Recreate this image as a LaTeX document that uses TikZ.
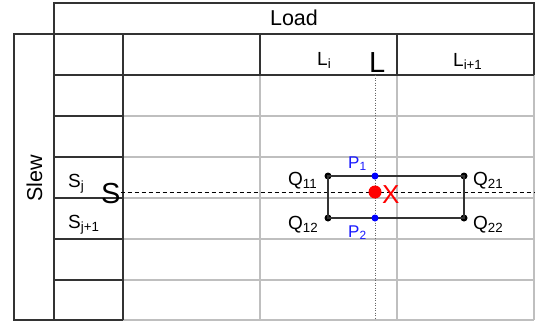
\documentclass[tikz,border=0pt]{standalone}
\usepackage{fontspec}
\setmainfont{Liberation Sans}
\begin{document}
\begin{tikzpicture}[x=1pt,y=-1pt,
  dark/.style={draw=black!80,line width=1.3pt},
  gridl/.style={draw=black!25,line width=1.3pt},
  ttl/.style={inner sep=0pt,font=\fontsize{21.5}{24}\selectfont},
  lbl/.style={inner sep=0pt,anchor=base west,font=\fontsize{19}{22}\selectfont},
  plbl/.style={inner sep=0pt,anchor=base west,text=blue!90,font=\fontsize{17}{20}\selectfont},
  big/.style={inner sep=0pt,anchor=base west,font=\fontsize{29}{32}\selectfont},
  dot/.style={circle,fill=black,inner sep=0pt,minimum size=7pt},
  bdot/.style={circle,fill=blue,inner sep=0pt,minimum size=7pt},
  rdot/.style={circle,fill=red,inner sep=0pt,minimum size=13pt}]
\useasboundingbox (0,0) rectangle (546,322);
% gray grid
\foreach \yy in {116,157,198,239,280,320} \draw[gridl] (123,\yy) -- (534,\yy);
\foreach \xx in {260,397,534} \draw[gridl] (\xx,75) -- (\xx,320);
% dark frame
\draw[dark] (54,3) rectangle (534,34);
\draw[dark] (14,34) rectangle (54,320);
\draw[dark] (54,75) -- (534,75);
\foreach \xx in {260,397,534} \draw[dark] (\xx,34) -- (\xx,75);
\draw[dark] (123,34) -- (123,320);
\foreach \yy in {116,157,198,239,280,320} \draw[dark] (54,\yy) -- (123,\yy);
% titles
\node[ttl] (load) at (294,18) {Load};
\node[ttl,rotate=90] (slew) at (34.5,178.5) {Slew};
\node[lbl] (li) at (317,65) {L\textsubscript{i}};
\node[lbl] (li1) at (453,66) {L\textsubscript{i+1}};
\node[lbl] (sj) at (68,187) {S\textsubscript{j}};
\node[lbl] (sj1) at (68,228) {S\textsubscript{j+1}};
\node[big] (bigL) at (369,72) {L};
\node[big] (bigS) at (101,203) {S};
% guide lines
\coordinate (lbot) at (375,320);
\coordinate (send) at (534,192);
\draw[draw=black!60,line width=1pt,dash pattern=on 1pt off 1.5pt] (375,75) -- (lbot);
\draw[black,line width=1pt,dash pattern=on 4pt off 3pt] (bigS.east |- send) -- (send);
% points
\node[dot] (q11) at (328,176) {};
\node[dot] (q21) at (464,176) {};
\node[dot] (q12) at (328,218) {};
\node[dot] (q22) at (464,218) {};
\draw[dark,line width=1.2pt] (q11.center) -- (q21.center) -- (q22.center) -- (q12.center) -- cycle;
\node[bdot] (p1) at (375,176) {};
\node[bdot] (p2) at (375,218) {};
\node[rdot] (x) at (375,192) {};
\node[lbl] at (288,185) {Q\textsubscript{11}};
\node[lbl] at (473,185) {Q\textsubscript{21}};
\node[lbl] at (288,229) {Q\textsubscript{12}};
\node[lbl] at (473,229) {Q\textsubscript{22}};
\node[plbl] at (348,168) {P\textsubscript{1}};
\node[plbl] at (348,237) {P\textsubscript{2}};
\node[big,text=red,font=\fontsize{26}{30}\selectfont] (xl) at (382,203) {X};
\end{tikzpicture}
\end{document}
